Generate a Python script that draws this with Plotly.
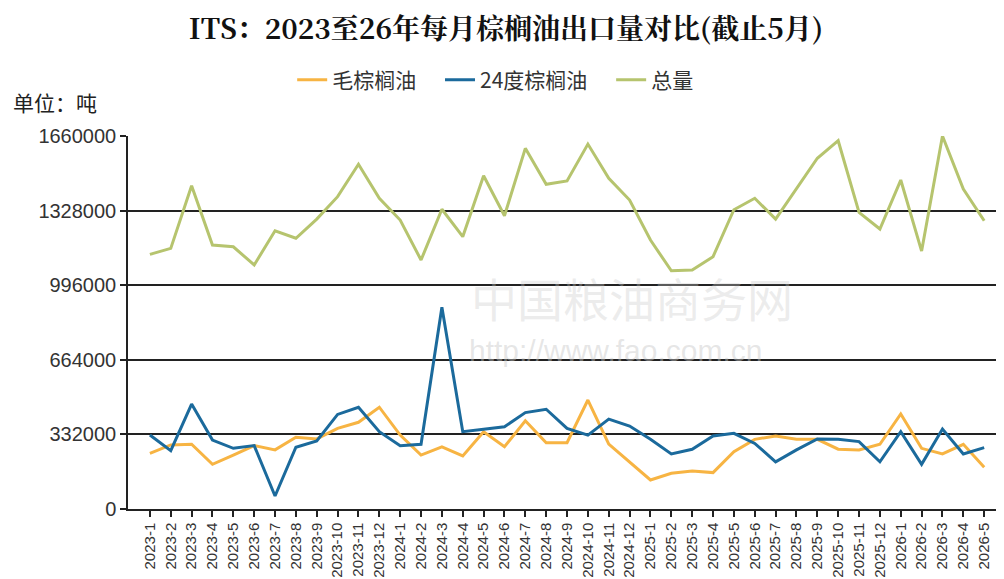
import plotly.graph_objects as go

months = (["2023-%d" % m for m in range(1, 13)] + ["2024-%d" % m for m in range(1, 13)]
          + ["2025-%d" % m for m in range(1, 13)] + ["2026-%d" % m for m in range(1, 6)])

crude_palm = [248000, 285000, 288000, 199000, 240000, 282000, 263000, 319000, 312000, 359000, 386000, 453000,
              329000, 240000, 277000, 236000, 344000, 277000, 393000, 295000, 295000, 485000, 289000, 210000,
              129000, 159000, 169000, 162000, 255000, 310000, 325000, 310000, 310000, 266000, 263000, 288000,
              423000, 270000, 245000, 288000, 186000]

palm_24 = [329000, 260000, 467000, 307000, 270000, 282000, 58000, 275000, 303000, 421000, 453000, 344000,
           282000, 288000, 898000, 344000, 355000, 366000, 429000, 444000, 359000, 329000, 400000, 369000,
           310000, 245000, 266000, 325000, 337000, 292000, 210000, 263000, 312000, 310000, 300000, 210000,
           344000, 199000, 356000, 245000, 273000]

total = [1133000, 1160000, 1439000, 1175000, 1167000, 1086000, 1238000, 1205000, 1290000, 1390000, 1534000, 1383000,
         1286000, 1108000, 1334000, 1212000, 1483000, 1305000, 1605000, 1445000, 1460000, 1624000, 1472000, 1375000,
         1197000, 1060000, 1064000, 1123000, 1332000, 1383000, 1290000, 1427000, 1561000, 1639000, 1320000, 1246000,
         1464000, 1148000, 1660000, 1424000, 1283000]

y_ticks = [0, 332000, 664000, 996000, 1328000, 1660000]

series_names = ["毛棕榈油", "24度棕榈油", "总量"]
colors = ["#F7B443", "#1B6A9C", "#B6C46E"]

fig = go.Figure()
for name, vals, col in zip(series_names, [crude_palm, palm_24, total], colors):
    fig.add_trace(go.Scatter(x=months, y=vals, name=name + "\u00a0\u00a0\u00a0\u00a0", mode="lines",
                             line=dict(color=col, width=3)))

font_main = "Noto Sans CJK SC, Liberation Sans, Arial, sans-serif"

fig.update_layout(
    width=996, height=571,
    margin=dict(l=120, r=0, t=128, b=70),
    paper_bgcolor="white", plot_bgcolor="white",
    font=dict(family=font_main, color="#333333"),
    title=dict(text="<b>ITS：2023至26年每月棕榈油出口量对比(截止5月)</b>",
               x=0.5, xanchor="center", y=0.963, yanchor="middle",
               font=dict(size=28, color="#111111",
                         family="Noto Serif CJK SC, DejaVu Serif, Liberation Serif, serif")),
    legend=dict(orientation="h", x=0.43, xanchor="center", y=1.15, yanchor="middle",
                font=dict(size=21, color="#333333"), itemwidth=30,
                bgcolor="rgba(0,0,0,0)", tracegroupgap=0),
    showlegend=True,
    xaxis=dict(type="category", range=[-1.05, 40.95], tickangle=-90,
               showgrid=False, showline=True, linecolor="#222222", linewidth=1.5,
               ticks="outside", ticklen=6, tickcolor="#222222", tickwidth=1.5,
               tickfont=dict(size=15, color="#333333", family="Liberation Sans, Arial, sans-serif"),
               zeroline=False),
    yaxis=dict(range=[0, 1660000], tickvals=y_ticks, ticktext=[str(v) for v in y_ticks],
               showgrid=True, gridcolor="#222222", gridwidth=1.5,
               showline=True, linecolor="#222222", linewidth=1.5,
               ticks="outside", ticklen=6, tickcolor="#222222", tickwidth=1.5,
               tickfont=dict(size=20, color="#333333", family="Liberation Sans, Arial, sans-serif"),
               zeroline=False),
)

fig.add_annotation(text="单位：吨", xref="paper", yref="paper", x=-0.133, y=1.09,
                   xanchor="left", yanchor="middle", showarrow=False,
                   font=dict(size=21, color="#222222", family=font_main))

# watermark
fig.add_annotation(text="中国粮油商务网", xref="paper", yref="paper", x=0.575, y=0.568,
                   xanchor="center", yanchor="middle", showarrow=False,
                   font=dict(size=46, color="rgba(200,200,200,0.35)", family=font_main))
fig.add_annotation(text="http://www.fao.com.cn", xref="paper", yref="paper", x=0.556, y=0.426,
                   xanchor="center", yanchor="middle", showarrow=False,
                   font=dict(size=30, color="rgba(200,200,200,0.45)", family="Liberation Sans, Arial, sans-serif"))

fig.write_html("out.html")
